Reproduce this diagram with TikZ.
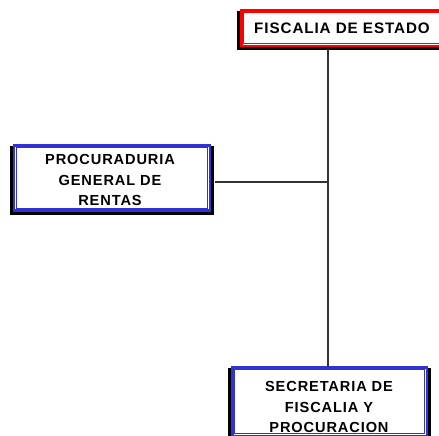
\documentclass[tikz,border=0pt]{standalone}
\usepackage{fontspec}
\newfontfamily\orgfont[LetterSpace=6]{Liberation Sans}
\usetikzlibrary{calc,backgrounds}
\definecolor{boxblue}{RGB}{50,50,210}
\definecolor{boxred}{RGB}{255,0,0}
\definecolor{linegray}{RGB}{51,51,51}
\tikzset{
  orgbox/.style={rectangle, draw=#1, line width=2.4pt, fill=white, inner sep=0pt},
  innerline/.style={draw=#1, line width=1pt},
  shadowfill/.style={fill=black},
  orgtext/.style={inner sep=0pt, align=center, font=\orgfont\bfseries\fontsize{14.6}{20.5}\selectfont},
  conn/.style={draw=linegray, line width=1.1pt}
}
\begin{document}
\begin{tikzpicture}[x=1pt,y=-1pt]
\useasboundingbox (0,0) rectangle (439,436);
\clip (0,0) rectangle (439,436);
% boxes
\node[orgbox=boxred, minimum width=208pt, minimum height=35.5pt] (fis) at (345.5,28.25) {};
\node[orgbox=boxblue, minimum width=196pt, minimum height=65pt] (proc) at (112,178) {};
\node[orgbox=boxblue, minimum width=194.5pt, minimum height=68.5pt] (sec) at (329.75,401.75) {};
% shadows
\begin{scope}[on background layer]
\foreach \b in {fis, proc, sec}{
  \fill[shadowfill] ([shift={(-3pt,-1.5pt)}]\b.north west) rectangle ([shift={(3pt,-3.2pt)}]\b.south east);
}
\end{scope}
% inner lines
\foreach \b/\c in {fis/boxred, proc/boxblue, sec/boxblue}{
  \draw[innerline=\c] ([shift={(3.5pt,-3.5pt)}]\b.north west) rectangle ([shift={(-3.5pt,3.5pt)}]\b.south east);
}
% connectors
\coordinate (top) at ([xshift=-1.75pt]sec.north |- fis.south);
\coordinate (bot) at ([xshift=-1.75pt]sec.north);
\coordinate (junc) at ($(top)!0.425!(bot)$);
\coordinate (pe) at ([shift={(4pt,-4pt)}]proc.east);
\draw[conn] ([yshift=-1.5pt]top) -- (bot);
\draw[conn] (pe) -- (pe -| junc);
% texts
\node[orgtext, font=\orgfont\bfseries\fontsize{15.2}{20}\selectfont] (fistext) at (342,28.25) {FISCALIA DE ESTADO};
\node[orgtext] (proctext) at (110,180) {PROCURADURIA\\GENERAL DE\\RENTAS};
\node[orgtext] (sectext) at (329,407) {SECRETARIA DE\\FISCALIA Y\\PROCURACION};
% redraw bottom border of sec over text
\draw[innerline=boxblue] ([shift={(3.5pt,3.5pt)}]sec.south west) -- ([shift={(-3.5pt,3.5pt)}]sec.south east);
\end{tikzpicture}
\end{document}
